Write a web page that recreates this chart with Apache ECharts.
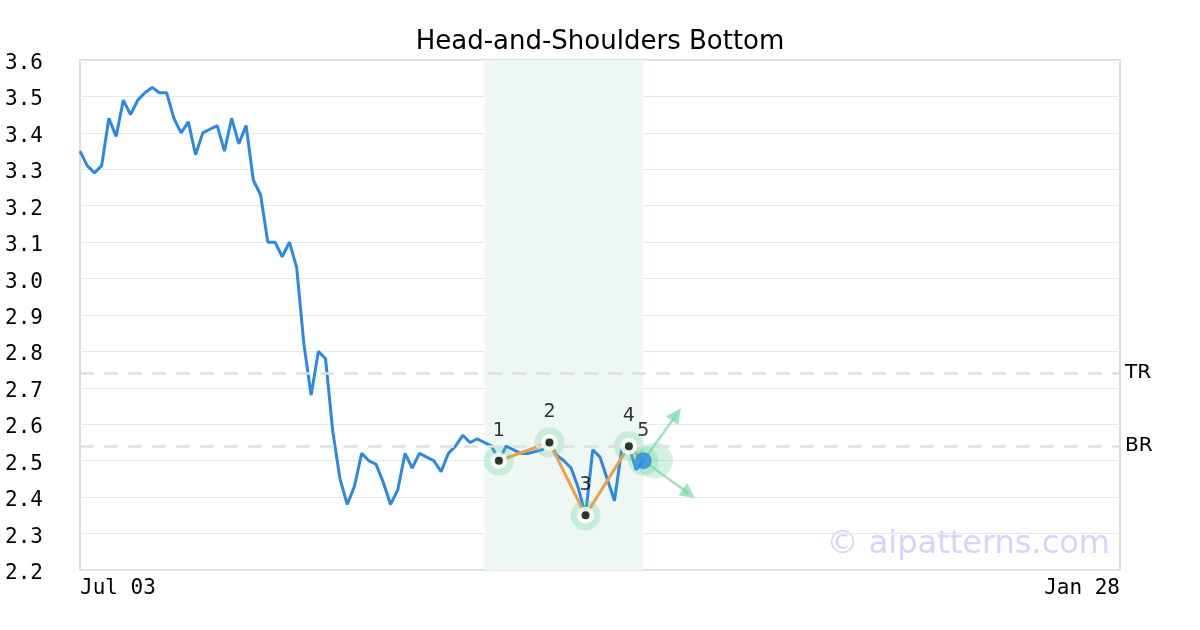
<!DOCTYPE html>
<html>
<head>
<meta charset="utf-8">
<script src="https://cdn.jsdelivr.net/npm/echarts@6/dist/echarts.min.js"></script>
<style>html,body{margin:0;padding:0;background:#fff}#c{width:1200px;height:630px}</style>
</head>
<body>
<div id="c"></div>
<script>
// ---- data ----
const titleText = 'Head-and-Shoulders Bottom';
const xTickLabels = ['Jul 03', 'Jan 28'];   // first and last trading session
const sessionCount = 145;                      // sessions on the axis (index 0..144)
const priceValues = [
  3.35, 3.31, 3.29, 3.31, 3.44, 3.39, 3.49, 3.45, 3.49, 3.51,
  3.525, 3.51, 3.51, 3.44, 3.40, 3.43, 3.34, 3.40, 3.41, 3.42,
  3.35, 3.44, 3.37, 3.42, 3.27, 3.23, 3.10, 3.10, 3.06, 3.10,
  3.03, 2.82, 2.68, 2.80, 2.78, 2.58, 2.45, 2.38, 2.43, 2.52,
  2.50, 2.49, 2.44, 2.38, 2.42, 2.52, 2.48, 2.52, 2.51, 2.50,
  2.47, 2.52, 2.54, 2.57, 2.55, 2.56, 2.55, 2.54, 2.50, 2.54,
  2.53, 2.52, 2.52, 2.525, 2.53, 2.55, 2.515, 2.50, 2.48, 2.425,
  2.35, 2.53, 2.51, 2.45, 2.39, 2.53, 2.54, 2.475, 2.50
];
const patternIndex = [58, 65, 70, 76, 78];
const patternValues = [2.50, 2.55, 2.35, 2.54, 2.50];
const patternLabels = ['1', '2', '3', '4', '5'];
const bandRange = [56, 78];
const levelNames = ['TR', 'BR'];
const levelValues = [2.74, 2.545];
const arrowUpEnd = [82.6, 2.627];
const arrowDownEnd = [84.3, 2.41];
const projectionCentre = [79.6, 2.50];
const yTicks = { min: 2.2, max: 3.6, step: 0.1 };

// ---- chart ----
const chart = echarts.init(document.getElementById('c'), null, { renderer: 'canvas' });
const priceData = priceValues.map((v, i) => [i, v]);
const patternData = patternIndex.map((x, i) => [x, patternValues[i]]);
const green = 'rgba(90,205,145,0.33)';
const arrowGreen = 'rgba(120,215,165,0.7)';
const mono = 'DejaVu Sans Mono';
const sans = 'DejaVu Sans';

const option = {
  animation: false,
  backgroundColor: '#fff',
  title: {
    text: titleText, left: 'center', top: 24,
    textStyle: { fontFamily: sans, fontSize: 26, fontWeight: 'normal', color: '#000' }
  },
  grid: { left: 80, right: 80, top: 60, bottom: 60, show: true, borderColor: '#dddddd', borderWidth: 2, backgroundColor: 'transparent' },
  xAxis: {
    type: 'value', min: 0, max: sessionCount - 1, interval: sessionCount - 1,
    axisLine: { show: false }, axisTick: { show: false }, splitLine: { show: false },
    axisLabel: {
      fontFamily: mono, fontSize: 21, color: '#000', margin: 8,
      alignMinLabel: 'left', alignMaxLabel: 'right',
      formatter: v => (v === 0 ? xTickLabels[0] : xTickLabels[1])
    }
  },
  yAxis: {
    type: 'value', min: yTicks.min, max: yTicks.max, interval: yTicks.step,
    axisLine: { show: false }, axisTick: { show: false },
    splitLine: { lineStyle: { color: '#e8e8e8', width: 1 } },
    axisLabel: { fontFamily: mono, fontSize: 21, color: '#000', align: 'left', margin: 75,
      formatter: v => '{t|' + v.toFixed(1) + '}',
      rich: { t: { fontFamily: mono, fontSize: 21, color: '#000', padding: [7, 0, 0, 0] } } }
  },
  graphic: [{
    type: 'text', right: 90, top: 529, z: 0,
    style: { text: '\u00a9 aipatterns.com', font: '32px "DejaVu Sans"', fill: '#d6d4fd' }
  }],
  series: [
    {
      type: 'line', data: priceData, showSymbol: false, symbol: 'none', z: 2,
      lineStyle: { color: '#2b88e6', width: 3 },
      markArea: { silent: true, itemStyle: { color: '#eef7f3' },
        data: [[{ xAxis: bandRange[0] }, { xAxis: bandRange[1] }]] },
      markLine: {
        silent: true, symbol: 'none',
        lineStyle: { color: '#e0e0e0', type: [14, 10], width: 2.5 },
        label: { position: 'end', distance: 5, fontFamily: sans, fontSize: 20, color: '#000',
          padding: [4, 0, 0, 0], formatter: p => p.name },
        data: levelNames.map((n, i) => ({ name: n, yAxis: levelValues[i] }))
      }
    },
    {
      type: 'line', data: patternData, symbol: 'none', z: 3,
      lineStyle: { color: '#f59d45', width: 3 }
    },
    {
      type: 'line', data: [], z: 3,
      markLine: {
        silent: true, symbol: ['none', 'triangle'], symbolSize: [15, 15],
        lineStyle: { color: arrowGreen, width: 2.5, type: 'solid' },
        itemStyle: { color: arrowGreen }, label: { show: false },
        data: [
          [{ coord: patternData[4] }, { coord: arrowUpEnd }],
          [{ coord: patternData[4] }, { coord: arrowDownEnd }]
        ]
      }
    },
    {
      type: 'scatter', z: 4, symbolSize: 36, data: [projectionCentre],
      itemStyle: { color: green }
    },
    {
      type: 'scatter', z: 4, symbolSize: 30, data: patternData,
      itemStyle: { color: green }
    },
    {
      type: 'scatter', z: 5, symbolSize: 17, data: patternData.slice(0, 4),
      itemStyle: { color: '#ffffff' }
    },
    {
      type: 'scatter', z: 6, symbolSize: 8, data: patternData.slice(0, 4),
      itemStyle: { color: '#000' }
    },
    {
      type: 'scatter', z: 6, symbolSize: 17, data: [patternData[4]],
      itemStyle: { color: '#2b88e6' }
    },
    {
      type: 'scatter', z: 7, symbolSize: 1, data: patternData,
      itemStyle: { color: 'rgba(0,0,0,0)' },
      label: { show: true, position: 'top', distance: 20, fontFamily: sans, fontSize: 19, color: '#000',
        formatter: p => patternLabels[p.dataIndex] }
    }
  ]
};
chart.setOption(option);
</script>
</body>
</html>
